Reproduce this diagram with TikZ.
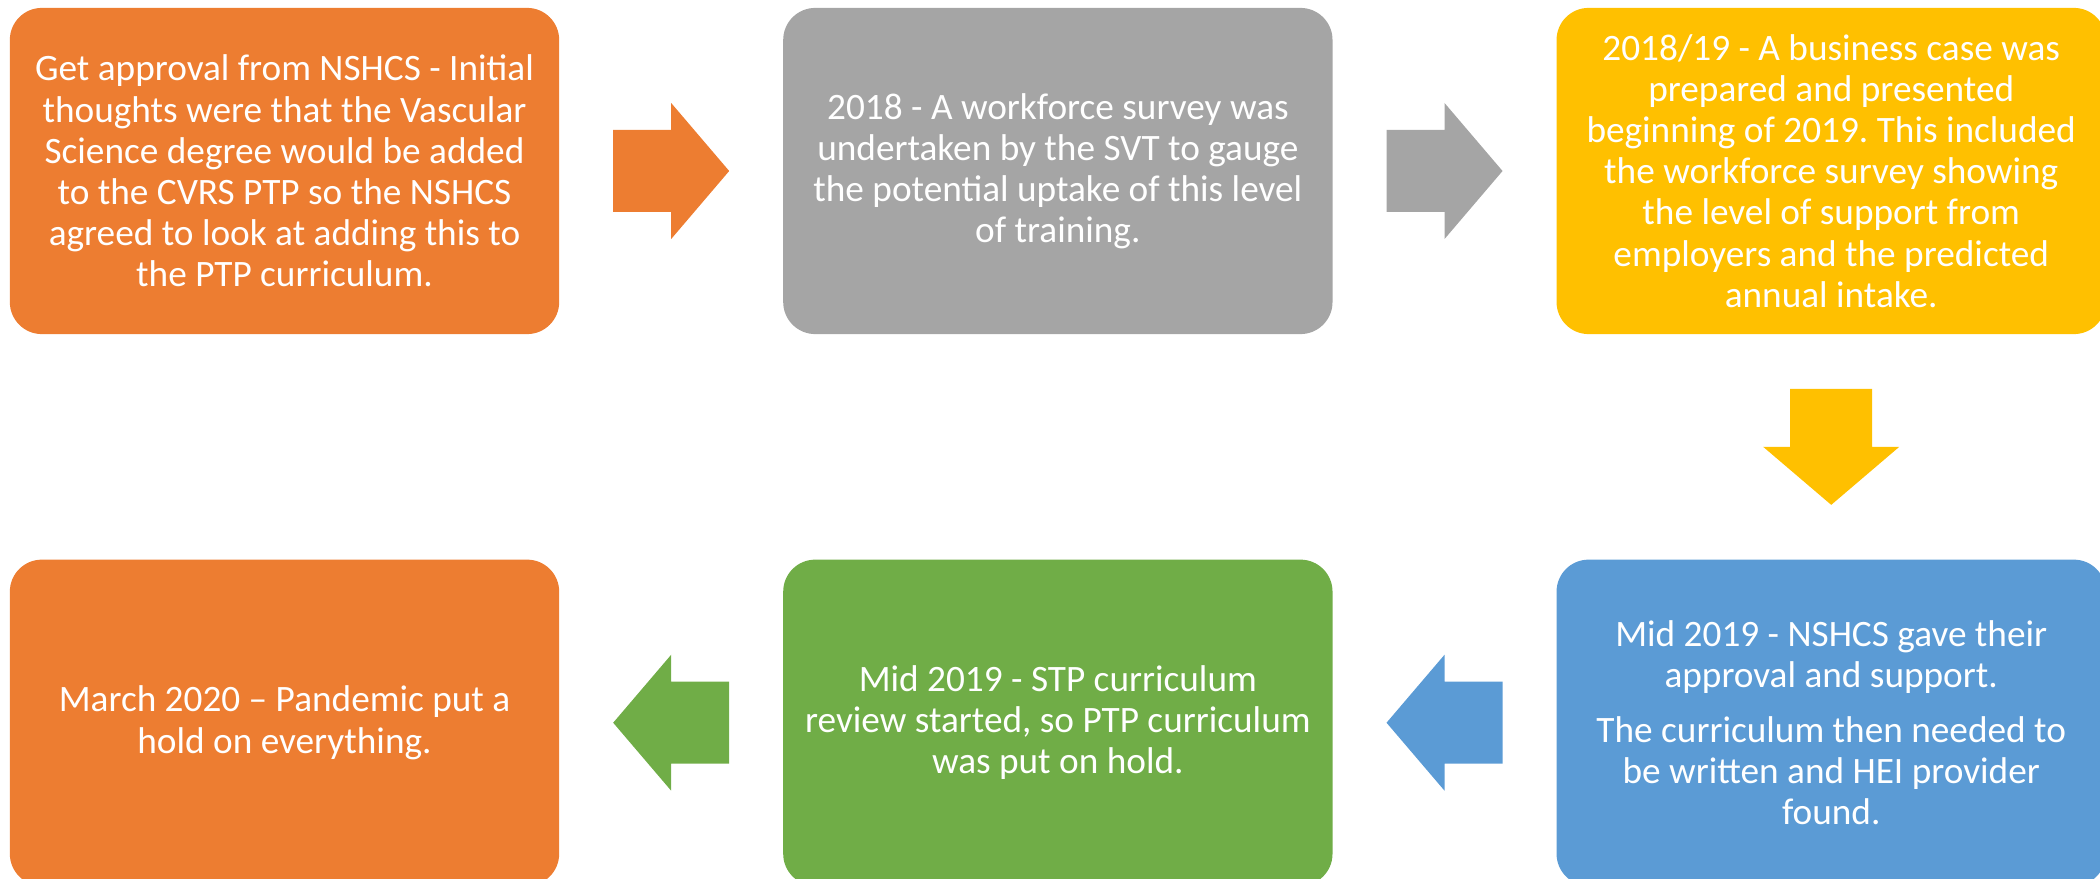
\documentclass[tikz,border=0pt]{standalone}
\usepackage{fontspec}
\setmainfont{Carlito}
\usetikzlibrary{calc,positioning}
\definecolor{boxorange}{HTML}{ED7D31}
\definecolor{boxgray}{HTML}{A5A5A5}
\definecolor{boxyellow}{HTML}{FFC000}
\definecolor{boxblue}{HTML}{5B9BD5}
\definecolor{boxgreen}{HTML}{70AD47}
\frenchspacing
\tikzset{
stage/.style={rectangle, rounded corners=0.32cm, minimum width=5.49cm, minimum height=3.26cm, inner sep=0pt, text=white, align=center, font=\fontsize{10.6}{11.7}\selectfont}, % one step of the timeline
}
\tikzset{
    between/.style args={#1 and #2}{
         at = ($(#1)!0.5!(#2)$)
    }
}
% block arrow, pointing right when #2=0, centred on #3
\newcommand{\flowarrow}[3]{%
  \fill[#1, shift={(#3)}, rotate=#2] (-58,-41) -- (0,-41) -- (0,-68) -- (58,0) -- (0,68) -- (0,41) -- (-58,41) -- cycle;}

\begin{document}
\begin{tikzpicture}[x=0.01cm, y=-0.01cm, node distance=2.225cm]
    \useasboundingbox (0,0) rectangle (2100,879);
    \node[stage, fill=boxorange] (b1) at (284.5,171) {Get approval from NSHCS - Initial\\thoughts were that the Vascular\\Science degree would be added\\to the CVRS PTP so the NSHCS\\agreed to look at adding this to\\the PTP curriculum.};
    \node[stage, fill=boxgray] (b2) [right=of b1] {2018 - A workforce survey was\\undertaken by the SVT to gauge\\the potential uptake of this level\\of training.};
    \node[stage, fill=boxyellow] (b3) [right=of b2] {2018/19 - A business case was\\prepared and presented\\beginning of 2019. This included\\the workforce survey showing\\the level of support from\\employers and the predicted\\annual intake.};
    \node[stage, fill=boxblue] (b4) [below=2.24cm of b3] {Mid 2019 - NSHCS gave their\\approval and support.\\[4pt]The curriculum then needed to\\be written and HEI provider\\found.};
    \node[stage, fill=boxgreen] (b5) [left=of b4] {Mid 2019 - STP curriculum\\review started, so PTP curriculum\\was put on hold.};
    \node[stage, fill=boxorange] (b6) [left=of b5] {March 2020 – Pandemic put a\\hold on everything.};
    \coordinate[between=b1.east and b2.west] (a12);
    \coordinate[between=b2.east and b3.west] (a23);
    \coordinate[between=b3.south and b4.north] (a34);
    \coordinate[between=b4.west and b5.east] (a45);
    \coordinate[between=b5.west and b6.east] (a56);
    \flowarrow{boxorange}{0}{a12}
    \flowarrow{boxgray}{0}{a23}
    \flowarrow{boxyellow}{-90}{a34}
    \flowarrow{boxblue}{180}{a45}
    \flowarrow{boxgreen}{180}{a56}
\end{tikzpicture}
\end{document}
